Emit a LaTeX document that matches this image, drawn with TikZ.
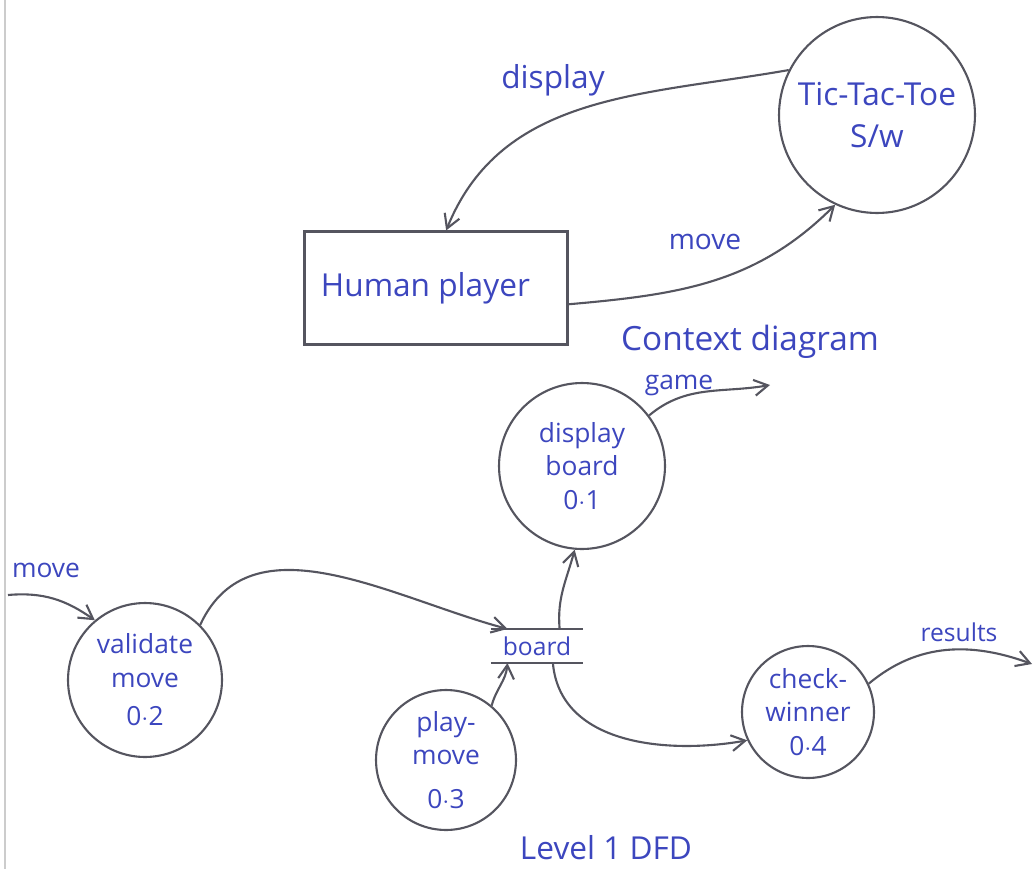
\documentclass[tikz,border=0pt]{standalone}
\usepackage{fontspec}
\setmainfont{Open Sans}
\usepackage{tikz}
\usetikzlibrary{calc,arrows,arrows.meta}
\definecolor{ink}{RGB}{60,70,190}
\definecolor{pencil}{RGB}{85,85,95}

\begin{document}
\begin{tikzpicture}[x=0.02cm,y=0.02cm,line width=1.2pt,
    proc/.style={circle,draw=pencil,text=ink,inner sep=0pt,align=center,font=\fontsize{15}{19}\selectfont},
    lbl/.style={text=ink,inner sep=0pt,font=\fontsize{17}{20}\selectfont},
    flow/.style={draw=pencil,-{Straight Barb[angle=60:9pt]}}]
\useasboundingbox (0,0) rectangle (1035,-869);
\draw[gray!40,line width=1pt] (5,0) -- (5,-869);
\node[proc,minimum size=3.92cm,font=\fontsize{18}{24}\selectfont](tts) at (877,-115) {Tic-Tac-Toe\\S/w};
\node[draw=pencil,text=ink,minimum width=5.26cm,minimum height=2.26cm,font=\fontsize{18}{22}\selectfont](hp) at (436,-288) {Human player\hspace*{12pt}};
\node[lbl,font=\fontsize{18}{22}\selectfont](ldisp) at (553,-80) {display};
\node[lbl,font=\fontsize{16}{20}\selectfont](lmove) at (705,-242) {move};
\node[lbl,font=\fontsize{19}{22}\selectfont](lctx) at (750,-342) {Context diagram};
\draw[flow] (tts.153) to[out=190,in=68] (hp.80);
\draw[flow] (hp.-7) to[out=5,in=225] (tts.245);
\node[proc,minimum size=3.32cm](db) at (582,-466) {display\\board\\0$\cdot$1};
\node[proc,minimum size=3.08cm](vm) at (145,-680) {validate\\move\\[3pt]0$\cdot$2};
\node[proc,minimum size=2.80cm](pm) at (446,-760) {play-\\move\\[6pt]0$\cdot$3};
\node[proc,minimum size=2.64cm](cw) at (808,-712) {check-\\winner\\0$\cdot$4};
\node[text=ink,inner sep=0pt,minimum width=1.8cm,minimum height=0.64cm,font=\fontsize{14}{16}\selectfont](board) at (537,-646) {board};
\draw[pencil,line width=1.5pt] (board.north west) -- (board.north east);
\draw[pencil,line width=1.5pt] (board.south west) -- (board.south east);
\coordinate (gameend) at (770,-385);
\coordinate (movein) at (8,-595);
\coordinate (resend) at (1032,-664);
\node[lbl,font=\fontsize{15}{18}\selectfont](lgame) at (679,-385) {game};
\node[lbl,font=\fontsize{15}{18}\selectfont](lmovein) at (46,-570) {move};
\node[lbl,font=\fontsize{14}{18}\selectfont](lres) at (959,-632) {results};
\node[lbl,font=\fontsize{18}{22}\selectfont](llevel) at (606,-848) {Level 1 DFD};
\draw[flow] (db.37) to[out=40,in=190] (gameend);
\draw[flow] (movein) to[out=5,in=145] (vm.130);
\draw[flow] (vm.45) to[out=65,in=165] (board.150);
\draw[flow] (pm.50) to[out=75,in=265] (board.-150);
\draw[flow] (board.37) to[out=95,in=255] (db.265);
\draw[flow] (board.-47) to[out=-85,in=190] (cw.205);
\draw[flow] (cw.25) to[out=40,in=160] (resend);
\end{tikzpicture}
\end{document}
